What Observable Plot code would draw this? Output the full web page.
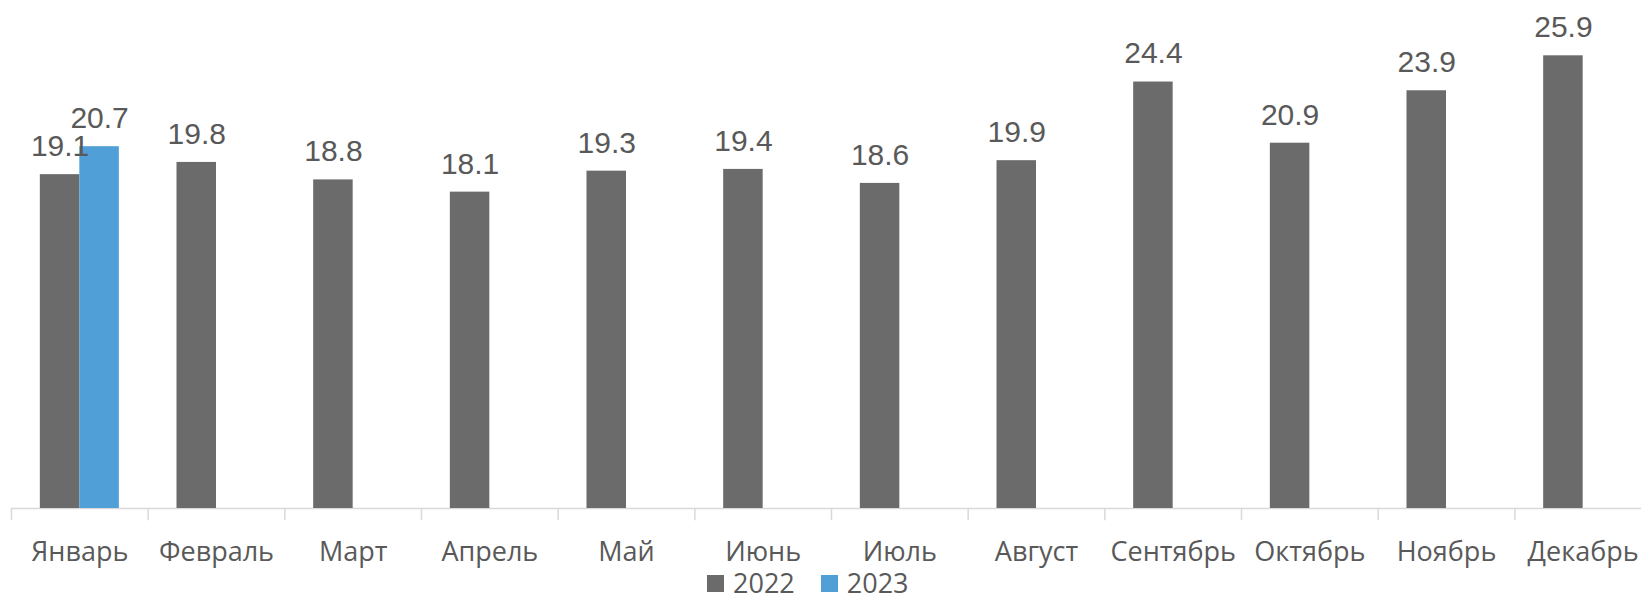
<!DOCTYPE html>
<html><head><meta charset="utf-8">
<script src="https://cdn.jsdelivr.net/npm/d3@7"></script>
<script src="https://cdn.jsdelivr.net/npm/@observablehq/plot@0.6"></script>
<style>
html,body{margin:0;padding:0;background:#fff;overflow:hidden;}
#wrap{position:relative;width:1641px;height:600px;}
.legend{position:absolute;left:707px;top:569px;display:flex;align-items:center;font-family:"Open Sans",sans-serif;font-size:27px;color:#595959;line-height:28px;}
.legend .sw{width:17px;height:17px;display:inline-block;margin-right:9px;}
.legend .item{display:flex;align-items:center;margin-right:26px;}
</style>
</head><body>
<div id="wrap"></div>
<script>
const months = ["Январь","Февраль","Март","Апрель","Май","Июнь","Июль","Август","Сентябрь","Октябрь","Ноябрь","Декабрь"];
const years = ["2022","2023"];
const colors = ["#6b6b6b","#509fd6"];
const values2022 = [19.1,19.8,18.8,18.1,19.3,19.4,18.6,19.9,24.4,20.9,23.9,25.9];
const values2023 = [20.7];

const rows = [];
months.forEach((m,i)=>{
  rows.push({month:m, year:years[0], value:values2022[i]});
  if (values2023[i] != null) rows.push({month:m, year:years[1], value:values2023[i]});
});

const W = 1641, H = 570, marginBottom = 62, marginTop = 18.6;
const plotH = H - marginBottom - marginTop;

const chart = Plot.plot({
  width: W, height: H,
  marginLeft: 11, marginRight: 0, marginTop, marginBottom,
  style: {fontFamily: "'Open Sans', sans-serif", color: "#595959", background: "#fff"},
  fx: {domain: months, paddingInner: 0, paddingOuter: 0, range: [11, 1651], round: false, label: null},
  x: {axis: null, domain: years, paddingInner: 0, paddingOuter: 0.73, round: false},
  y: {axis: null, domain: [0, 28]},
  color: {domain: years, range: colors},
  marks: [
    Plot.ruleY([0], {stroke: "#d9d9d9", strokeWidth: 1.5}),
    Plot.frame({anchor: "left", stroke: "#d9d9d9", strokeWidth: 1.5, insetTop: plotH, insetBottom: -11}),
    Plot.barY(rows, {fx: "month", x: "year", y: "value", fill: "year"}),
    Plot.text(rows, {fx: "month", x: "year", y: "value", text: d => d.value.toFixed(1), lineAnchor: "bottom", dy: -18.6, fontSize: 30, fontFamily: "'Liberation Sans', Arial, sans-serif", fill: "#595959"}),
    Plot.axisFx({anchor: "bottom", tickSize: 0, tickPadding: 33, fontSize: 27, label: null, fill: "#595959"})
  ]
});
const wrap = document.getElementById("wrap");
wrap.appendChild(chart);

const legend = document.createElement("div");
legend.className = "legend";
years.forEach((y,i)=>{
  const it = document.createElement("span"); it.className = "item";
  const sw = document.createElement("span"); sw.className = "sw"; sw.style.background = colors[i];
  it.appendChild(sw); it.appendChild(document.createTextNode(y));
  legend.appendChild(it);
});
wrap.appendChild(legend);
</script>
</body></html>
